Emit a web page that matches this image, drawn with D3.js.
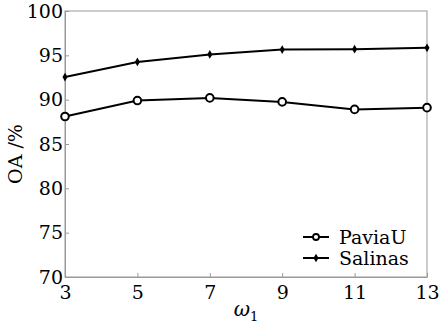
<!DOCTYPE html>
<html>
<head>
<meta charset="utf-8">
<script src="https://cdn.jsdelivr.net/npm/d3@7"></script>
<style>
  body { margin: 0; background: #fff; }
</style>
</head>
<body>
<svg width="439" height="333"></svg>
<script>
var omega = [3, 5, 7, 9, 11, 13];
var paviaU = [88.1, 89.9, 90.2, 89.75, 88.9, 89.1];
var salinas = [92.55, 94.25, 95.1, 95.65, 95.7, 95.85];
var yTicks = [70, 75, 80, 85, 90, 95, 100];

var serif = "'DejaVu Serif', 'Liberation Serif', 'Times New Roman', Times, serif";

var svg = d3.select("svg"),
    margin = {top: 11, right: 12, bottom: 56, left: 65},
    width = 439 - margin.left - margin.right,
    height = 333 - margin.top - margin.bottom;

var g = svg.append("g")
    .attr("transform", "translate(" + margin.left + "," + margin.top + ")");

var x = d3.scaleLinear().domain([3, 13]).range([0, width]);
var y = d3.scaleLinear().domain([70, 100]).range([height, 0]);

// frame
g.append("rect")
  .attr("width", width).attr("height", height)
  .attr("fill", "none").attr("stroke", "#999").attr("stroke-width", 1);

var xAxis = g.append("g")
  .attr("transform", "translate(0," + height + ")")
  .call(d3.axisBottom(x).tickValues(omega).tickSizeInner(-4).tickSizeOuter(0).tickPadding(8));
var yAxis = g.append("g")
  .call(d3.axisLeft(y).tickValues(yTicks).tickSizeInner(-4).tickSizeOuter(0).tickPadding(2));

[xAxis, yAxis].forEach(function(a) {
  a.attr("font-family", serif).attr("font-size", 19);
  a.selectAll(".domain").attr("stroke", "#999");
  a.selectAll(".tick line").attr("stroke", "#999");
  a.selectAll("text").attr("fill", "#000");
});
xAxis.selectAll("text").attr("dy", "0.75em");

var line = d3.line()
  .x(function(d, i) { return x(omega[i]); })
  .y(function(d) { return y(d); });

g.append("path").datum(salinas)
  .attr("d", line).attr("fill", "none").attr("stroke", "#000").attr("stroke-width", 2);
g.append("path").datum(paviaU)
  .attr("d", line).attr("fill", "none").attr("stroke", "#000").attr("stroke-width", 2);

var diamond = d3.symbol().type(d3.symbolDiamond).size(22);
g.selectAll(".sal").data(salinas).enter().append("path")
  .attr("class", "sal")
  .attr("transform", function(d, i) { return "translate(" + x(omega[i]) + "," + y(d) + ")"; })
  .attr("d", diamond).attr("fill", "#000");

g.selectAll(".pav").data(paviaU).enter().append("circle")
  .attr("class", "pav")
  .attr("cx", function(d, i) { return x(omega[i]); })
  .attr("cy", function(d) { return y(d); })
  .attr("r", 3.8).attr("fill", "#fff").attr("stroke", "#000").attr("stroke-width", 2);

// legend
var legend = g.append("g").attr("transform", "translate(238,226)")
  .attr("font-family", serif).attr("font-size", 19);
legend.append("line").attr("x1", 0).attr("x2", 26).attr("y1", 0).attr("y2", 0)
  .attr("stroke", "#000").attr("stroke-width", 2);
legend.append("circle").attr("cx", 13).attr("cy", 0).attr("r", 3)
  .attr("fill", "#fff").attr("stroke", "#000").attr("stroke-width", 1.8);
legend.append("text").attr("x", 36).attr("y", 0).attr("dy", "0.35em").text("PaviaU");
legend.append("line").attr("x1", 0).attr("x2", 26).attr("y1", 21).attr("y2", 21)
  .attr("stroke", "#000").attr("stroke-width", 2);
legend.append("path").attr("transform", "translate(13,21)").attr("d", diamond).attr("fill", "#000");
legend.append("text").attr("x", 36).attr("y", 21).attr("dy", "0.35em").text("Salinas");

// axis titles
svg.append("text")
  .attr("transform", "translate(22,154) rotate(-90)")
  .attr("text-anchor", "middle")
  .attr("font-family", serif).attr("font-size", 19)
  .text("OA /%");

var xl = svg.append("text")
  .attr("x", 246).attr("y", 316)
  .attr("text-anchor", "middle")
  .attr("font-family", serif).attr("font-size", 20);
xl.append("tspan").attr("font-style", "italic").text("ω");
xl.append("tspan").attr("dy", 5).attr("font-size", 13).text("1");
</script>
</body>
</html>
